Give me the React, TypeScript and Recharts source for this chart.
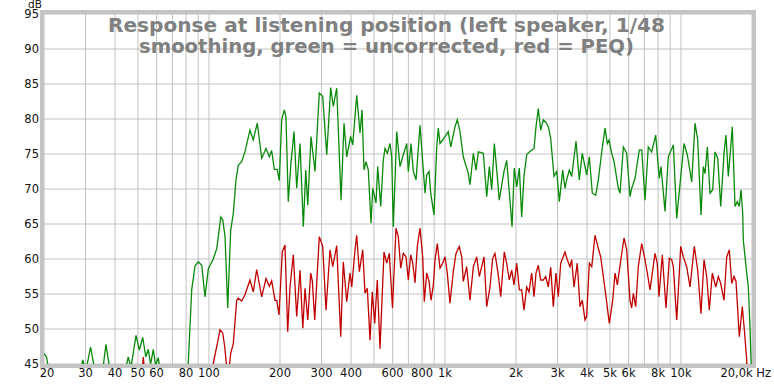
import { CartesianGrid, Line, LineChart, XAxis, YAxis } from 'recharts';

const greenFreq = [
  20, 20.5, 21.2, 23.4, 27.9, 29.2, 30.1, 31.5, 32.9, 34.5, 35.6, 36.6, 38.1, 41.2, 44.5, 45.5, 46.7, 49.1,
  50.7, 52.4, 54.0, 55.3, 56.6, 58.1, 59.4, 61.0, 62.6, 71.8, 80.7, 81.7, 84.5, 87.3, 90.1, 93.2, 96.2,
  99.4, 104.3, 107.9, 112.2, 114.4, 117.0, 120.1, 123.6, 126.8, 130.2, 133.1, 137.6, 142.1, 149.2, 154.1,
  160.2, 167.3, 174.5, 180.2, 184.4, 189.2, 194.8, 198.6, 203.4, 208.6, 212.0, 216.8, 222.6, 229.4, 235.4,
  243.2, 251.1, 257.1, 262.2, 270.7, 281.4, 293.4, 303.4, 315.5, 328.0, 336.4, 347.8, 362.8, 373.5, 383.4,
  398.6, 406.6, 422.7, 436.6, 445.3, 454.0, 462.9, 473.4, 486.0, 494.2, 510.3, 518.8, 534.2, 547.9, 557.1,
  569.9, 585.0, 594.8, 604.2, 624.5, 645.0, 662.2, 688.6, 699.4, 718.2, 734.4, 754.2, 784.0, 823.2, 836.9,
  856.0, 870.3, 898.6, 922.7, 937.2, 952.8, 978.2, 1033, 1058, 1103, 1128, 1158, 1196, 1256, 1277, 1319,
  1354, 1385, 1454, 1503, 1542, 1578, 1619, 1657, 1699, 1779, 1826, 1886, 1924, 1967, 2014, 2066, 2114,
  2162, 2220, 2278, 2385, 2431, 2486, 2545, 2610, 2681, 2742, 2806, 2898, 2976, 3052, 3154, 3226, 3280,
  3364, 3444, 3592, 3709, 3819, 3986, 4090, 4212, 4354, 4466, 4644, 4768, 4876, 4958, 5089, 5205, 5428,
  5519, 5699, 5889, 6083, 6184, 6386, 6660, 6818, 7042, 7272, 7516, 7815, 8096, 8231, 8560, 8840, 9282,
  9595, 10008, 10304, 10638, 11106, 11470, 11775, 12161, 12436, 12644, 12932, 13274, 13632, 13939, 14314,
  14740, 15222, 15520, 15873, 16505, 16946, 17330, 17672, 17967, 18266, 18373, 18993, 19293, 19613, 19808,
  20000,
];
const greenDb = [
  46.5, 46.0, 43, 40, 42, 45.6, 44, 47.4, 44, 42, 44.5, 47.8, 44, 42, 44.5, 46.0, 44.5, 49.1,
  47.0, 48.8, 46.0, 47.1, 45.0, 47.1, 44.8, 45.9, 43, 40, 43, 45, 55.6, 59.0, 59.6, 59.1, 54.6,
  58.6, 60.0, 61.5, 66.0, 65.6, 63.2, 53.0, 64.1, 66.5, 71.3, 73.4, 73.9, 75.3, 78.4, 77.0,
  79.4, 74.4, 75.8, 74.6, 75.5, 72.8, 72.8, 71.2, 79.9, 81.3, 80.3, 68.2, 73.7, 78.2, 70.1,
  76.5, 64.6, 72.7, 67.7, 77.5, 72.5, 83.7, 83.2, 74.9, 84.5, 81.8, 84.4, 68.4, 79.4, 74.6,
  77.5, 76.3, 83.4, 78.0, 81.3, 72.7, 73.9, 72.7, 65.1, 70.1, 68.0, 73.2, 67.5, 74.1, 75.8,
  75.1, 76.5, 74.6, 64.6, 78.2, 73.2, 74.6, 76.5, 72.5, 76.5, 72.5, 71.3, 79.1, 69.4, 72.0,
  72.5, 69.4, 66.3, 76.0, 78.7, 76.5, 77.0, 78.2, 76.0, 78.9, 79.9, 78.2, 74.6, 72.2, 70.6, 75.1,
  72.7, 75.3, 75.1, 68.9, 73.2, 69.9, 76.5, 72.7, 68.4, 72.5, 74.1, 68.4, 64.6, 73.0, 70.3, 73.0, 66.0,
  71.8, 74.9, 75.3, 75.8, 78.9, 81.5, 78.4, 79.9, 79.5, 78.9, 77.2, 71.8, 72.5, 68.2, 72.7, 70.1, 71.3,
  72.7, 71.8, 76.8, 71.3, 75.1, 72.0, 74.6, 69.4, 69.1, 71.3, 76.0, 78.7, 76.5, 77.0, 75.1, 73.9, 70.1,
  69.4, 76.0, 75.1, 68.9, 70.1, 71.5, 75.6, 75.6, 68.4, 76.0, 75.3, 77.7, 71.5, 73.2, 66.8, 74.6, 76.3,
  65.8, 72.2, 76.5, 74.9, 71.0, 79.4, 77.0, 66.3, 73.2, 72.2, 76.0, 69.4, 69.9, 75.3, 74.4,
  67.5, 75.1, 77.7, 71.8, 78.9, 67.5, 68.2, 67.5, 69.9, 66.5, 62.7, 58.0, 56.0, 50.3, 45.6,
  42,
];

const redFreq = [
  20, 51.5, 52.7, 54.0, 103.0, 104.3, 107.9, 111.4, 114.4, 116.6, 118.9, 120.4, 123.6, 126.8, 131.1,
  133.1, 137.6, 142.1, 149.2, 154.1, 159.3, 167.3, 174.5, 180.2, 184.4, 190.5, 193.7, 198.1, 204.5, 210.0,
  215.6, 220.5, 227.7, 235.4, 243.2, 249.8, 255.3, 262.2, 269.9, 274.2, 280.6, 293.4, 303.4, 313.3, 325.8,
  334.5, 347.8, 361.7, 370.9, 383.4, 396.0, 402.7, 415.8, 422.7, 433.6, 448.2, 458.4, 468.8, 481.4, 492.2,
  503.9, 516.8, 530.6, 551.8, 566.5, 581.0, 599.4, 620.2, 634.4, 649.4, 666.2, 683.9, 699.4, 716.1, 730.2,
  746.6, 763.6, 784.0, 804.9, 817.4, 836.9, 856.0, 872.9, 892.8, 907.7, 928.0, 952.8, 978.2, 1001, 1023,
  1050, 1085, 1114, 1150, 1178, 1196, 1236, 1277, 1319, 1363, 1398, 1431, 1464, 1503, 1552, 1593, 1629,
  1683, 1723, 1784, 1826, 1873, 1918, 1961, 2014, 2066, 2114, 2162, 2220, 2271, 2330, 2385, 2431, 2486,
  2545, 2610, 2672, 2742, 2806, 2878, 2954, 3022, 3094, 3226, 3300, 3386, 3444, 3522, 3636, 3734, 3819,
  3922, 3986, 4090, 4188, 4324, 4466, 4570, 4688, 4813, 4971, 5137, 5257, 5376, 5519, 5737, 5889, 6083,
  6184, 6282, 6431, 6596, 6818, 7042, 7202, 7394, 7764, 7938, 8071, 8336, 8642, 8926, 9136, 9282, 9595,
  9978, 10232, 10577, 10925, 11392, 11775, 12161, 12523, 12853, 13187, 13578, 14039, 14400, 14740, 15222,
  15627, 16028, 16408, 16780, 17112, 17672, 18198, 18556, 18993, 19232,
];
const redDb = [
  40, 42, 46.0, 42, 43, 45.1, 47.5, 49.9, 49.4, 47.5, 44.5, 43, 46.5, 47.9, 54.1,
  54.4, 54.0, 54.9, 57.0, 55.3, 58.5, 54.6, 57.2, 56.1, 56.9, 54.1, 54.1, 52.0, 61.0, 62.0,
  49.6, 56.0, 60.6, 51.8, 58.4, 50.1, 55.8, 51.3, 58.0, 56.8, 51.3, 63.2, 61.8, 52.7, 61.3,
  58.9, 61.9, 48.9, 59.6, 53.9, 58.0, 56.0, 61.3, 63.4, 58.2, 61.3, 55.1, 55.8, 48.4, 55.3,
  50.8, 57.0, 47.2, 61.0, 59.4, 60.8, 53.0, 64.4, 63.2, 58.7, 60.8, 60.3, 57.0, 60.6, 59.4,
  56.6, 61.8, 64.4, 60.3, 53.9, 58.0, 56.8, 54.1, 56.3, 59.9, 62.2, 58.7, 59.4, 60.3, 58.0,
  53.7, 58.2, 60.8, 61.8, 60.3, 56.8, 58.9, 54.1, 58.9, 60.3, 57.5, 58.9, 60.3, 53.2, 56.0, 60.1, 60.8,
  57.7, 54.6, 61.0, 59.4, 57.0, 58.4, 56.3, 59.4, 55.6, 55.6, 52.7, 56.0, 55.3, 58.0, 54.6, 58.0, 59.1,
  57.0, 57.0, 57.5, 56.0, 58.8, 53.2, 58.0, 54.6, 59.4, 61.0, 59.9, 58.9, 59.9, 56.0, 59.4, 53.2, 54.1,
  51.3, 51.8, 59.4, 58.9, 63.4, 61.5, 60.3, 57.5, 54.6, 50.8, 54.1, 58.0, 56.3, 59.1, 63.0, 61.3, 54.1,
  53.0, 55.1, 53.2, 58.9, 62.2, 59.9, 58.0, 55.6, 60.8, 59.4, 54.6, 60.6, 53.0, 60.1, 59.9, 58.9, 51.3,
  61.8, 60.3, 58.9, 56.0, 61.8, 58.4, 52.2, 59.9, 57.5, 52.7, 58.0, 56.0, 57.5, 56.5, 54.1,
  60.3, 61.3, 56.5, 57.5, 56.8, 48.9, 53.2, 49.9, 45.6, 42,
];

const freqTicks = [
  20, 30, 40, 50, 60, 70, 80, 90, 100, 200, 300, 400, 500, 600, 700, 800, 900, 1000, 2000, 3000, 4000,
  5000, 6000, 7000, 8000, 9000, 10000, 20000,
];
const freqLabels = [
  '20', '30', '40', '50', '60', '', '80', '', '100', '200', '300', '400', '', '600', '', '800', '', '1k', '2k',
  '3k', '4k', '5k', '6k', '', '8k', '', '10k', '20,0k Hz',
];
const dbTicks = [45, 50, 55, 60, 65, 70, 75, 80, 85, 90, 95];

const titleLines = [
  'Response at listening position (left speaker, 1/48',
  'smoothing, green = uncorrected, red = PEQ)',
];

const W = 774;
const H = 385;
const plot = { left: 44, top: 14, right: 752, bottom: 364 };
const font = "'DejaVu Sans', sans-serif";

const greenData = greenFreq.map((f, i) => ({ f, db: greenDb[i] }));
const redData = redFreq.map((f, i) => ({ f, db: redDb[i] }));

function FreqTick({ x, y, payload }: any) {
  const i = freqTicks.indexOf(payload.value);
  const label = freqLabels[i] ?? '';
  if (!label) return null;
  const last = i === freqTicks.length - 1;
  const first = i === 0;
  return (
    <text
      x={last ? x + 19 : first ? x + 3 : x}
      y={y + 13}
      textAnchor={last ? 'end' : 'middle'}
      fontFamily={font}
      fontSize={11.5}
      fill="#111"
    >
      {label}
    </text>
  );
}

function DbTick({ x, y, payload }: any) {
  return (
    <text x={x} y={y + 4} textAnchor="end" fontFamily={font} fontSize={11.5} fill="#111">
      {payload.value}
    </text>
  );
}

export default function App() {
  return (
    <div style={{ position: 'absolute', left: 0, top: 0, width: W, height: H, background: '#fff' }}>
      <LineChart
        width={W}
        height={H}
        margin={{ top: plot.top, right: W - plot.right, bottom: 0, left: 0 }}
      >
        <CartesianGrid stroke="#c2c2c2" strokeWidth={1} />
        <XAxis
          dataKey="f"
          type="number"
          scale="log"
          domain={[20, 20000]}
          ticks={freqTicks}
          interval={0}
          allowDataOverflow
          height={H - plot.bottom}
          axisLine={false}
          tickLine={false}
          tickSize={0}
          tickMargin={0}
          tick={<FreqTick />}
        />
        <YAxis
          dataKey="db"
          type="number"
          domain={[45, 95]}
          ticks={dbTicks}
          interval={0}
          allowDataOverflow
          width={plot.left}
          axisLine={false}
          tickLine={false}
          tickSize={0}
          tickMargin={5}
          tick={<DbTick />}
        />
        <Line
          data={greenData}
          dataKey="db"
          type="linear"
          stroke="#0a8a0a"
          strokeWidth={1.3}
          dot={false}
          isAnimationActive={false}
        />
        <Line
          data={redData}
          dataKey="db"
          type="linear"
          stroke="#c00000"
          strokeWidth={1.3}
          dot={false}
          isAnimationActive={false}
        />
      </LineChart>
      <svg
        width={W}
        height={H}
        style={{ position: 'absolute', left: 0, top: 0, pointerEvents: 'none' }}
      >
        <rect
          x={plot.left - 2}
          y={plot.top - 2}
          width={plot.right - plot.left + 4}
          height={plot.bottom - plot.top + 4}
          fill="none"
          stroke="#c4c4c4"
          strokeWidth={4}
        />
        <text x={35} y={8} textAnchor="middle" fontFamily={font} fontSize={10.5} fill="#111">
          dB
        </text>
        {titleLines.map((line, i) => (
          <text
            key={i}
            x={386.5}
            y={32 + i * 20.5}
            textAnchor="middle"
            fontFamily={font}
            fontWeight="bold"
            fontSize={20}
            fill="#808080"
            textLength={i === 0 ? 557 : 495}
            lengthAdjust="spacingAndGlyphs"
          >
            {line}
          </text>
        ))}
      </svg>
    </div>
  );
}
